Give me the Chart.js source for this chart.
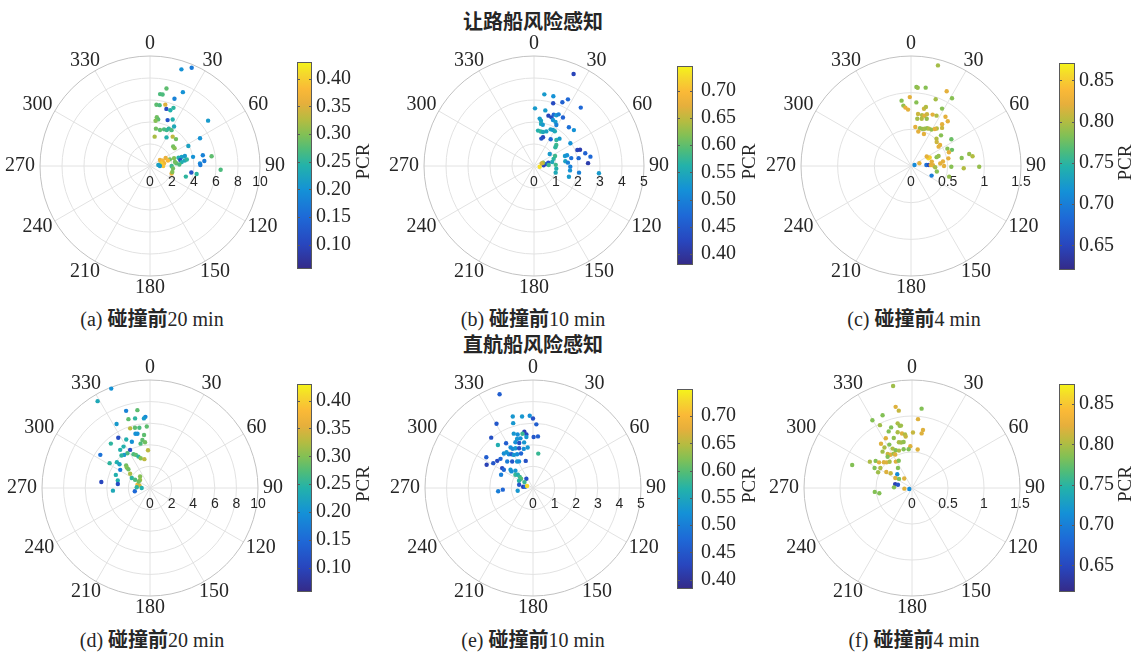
<!DOCTYPE html>
<html>
<head>
<meta charset="utf-8">
<script src="https://cdn.jsdelivr.net/npm/chart.js@4.4.1/dist/chart.umd.min.js"></script>
<style>
  body { margin: 0; background: #fff; }
  #page { position: relative; width: 1144px; height: 652px; overflow: hidden;
          font-family: 'Liberation Serif', 'Noto Sans CJK SC', serif; color: #262626; }
  #page canvas { position: absolute; }
  .txt { position: absolute; transform: translate(-50%, -50%); white-space: nowrap; font-size: 20px; }
  .zh { font-weight: bold; }
</style>
</head>
<body>
<div id="page">
  <div class="txt zh" style="left:533px;top:20px">让路船风险感知</div>
  <div class="txt zh" style="left:533px;top:343px">直航船风险感知</div>
  <div class="txt" style="left:152px;top:317px">(a) <span class="zh">碰撞前</span>20 min</div>
  <div class="txt" style="left:533px;top:317px">(b) <span class="zh">碰撞前</span>10 min</div>
  <div class="txt" style="left:914px;top:317px">(c) <span class="zh">碰撞前</span>4 min</div>
  <div class="txt" style="left:152px;top:638px">(d) <span class="zh">碰撞前</span>20 min</div>
  <div class="txt" style="left:533px;top:638px">(e) <span class="zh">碰撞前</span>10 min</div>
  <div class="txt" style="left:914px;top:638px">(f) <span class="zh">碰撞前</span>4 min</div>
</div>
<script>
// ---- axes ----
const thetaTicks = [0, 30, 60, 90, 120, 150, 180, 210, 240, 270, 300, 330];
const rTicks20 = [0, 2, 4, 6, 8, 10];
const rTicks10 = [0, 1, 2, 3, 4, 5];
const rTicks4 = [0, 0.5, 1, 1.5];
const cbLabel = 'PCR';

// colour limits and colourbar ticks
const climA = [0.056, 0.43],  cbTicksA = [0.10, 0.15, 0.20, 0.25, 0.30, 0.35, 0.40];
const climB = [0.38, 0.745],  cbTicksB = [0.40, 0.45, 0.50, 0.55, 0.60, 0.65, 0.70];
const climC = [0.62, 0.871],  cbTicksC = [0.65, 0.70, 0.75, 0.80, 0.85];
const climD = [0.056, 0.43],  cbTicksD = [0.10, 0.15, 0.20, 0.25, 0.30, 0.35, 0.40];
const climE = [0.383, 0.75],  cbTicksE = [0.40, 0.45, 0.50, 0.55, 0.60, 0.65, 0.70];
const climF = [0.617, 0.875], cbTicksF = [0.65, 0.70, 0.75, 0.80, 0.85];

// ---- (a) give-way ship, 20 min ----
const thetaA = [23,18,12,24,8,10,20,6,9,14, 16,20,22,8,10,7,21,26,52,9, 15.5,21,25,26.6,31,31.4,9,30,37.7,44,
  61,50,54,62.5,59,67,79,77,82,90, 63,71.5,72,74,74,74,79,83,81,80, 84,87,81,78,78.5,84.7,87,89,81,93,
  106.5,99,99.7,109,105,83,90,90,96,73];
const rA = [9.7,9.24,7.2,7.35,6.6,6.6,6.5,5.6,5.6,5.75, 5.4,5.4,5.7,4.47,4.3,4.15,4.47,4.7,6.7,3.44, 3.4,3.57,3.6,3.8,3.8,4.2,2.7,3.0,3.37,3.4,
  5.2,2.75,2.76,3.93,1.06,1.25,1.3,1.06,0.86,1.2, 1.6,1.9,2.3,2.7,3.0,3.3,2.8,2.9,3.2,3.4, 2.4,2.67,2.3,4.0,4.9,4.96,4.55,4.58,5.67,6.43,
  3.4,3.8,4.3,2.08,2.1,0.76,0.9,1.97,2.1,1.7];
const pcrA = [0.17,0.20,0.28,0.20,0.27,0.27,0.18,0.28,0.27,0.35, 0.11,0.24,0.25,0.29,0.28,0.30,0.12,0.24,0.21,0.29, 0.28,0.27,0.26,0.25,0.27,0.23,0.32,0.24,0.33,0.29,
  0.20,0.29,0.30,0.22,0.36,0.38,0.37,0.40,0.33,0.39, 0.36,0.29,0.30,0.24,0.22,0.21,0.11,0.24,0.23,0.25, 0.28,0.27,0.29,0.20,0.18,0.17,0.19,0.17,0.28,0.27,
  0.25,0.12,0.25,0.36,0.30,0.22,0.21,0.26,0.29,0.38];

// ---- (b) give-way ship, 10 min ----
const thetaB = [23.3,8.2,15.5,24,27,17,38.7,1,11.5,16, 19.7,21,23.8,25.5,30.8,6.8,8.8,9.5,12,22.4, 26,28.6,42,48,6.5,11,14.8,19.6,24.4,27.8,
  31,17.4,15,32,40.7,43,46.8,48.8,58,69.7, 70.6,76,80.6,87,80,78,72,72,81.5,84.4, 91,97,107,98.4,96.4,64.5,70,77.7,87,96.8,
  107,77,81,86,70,97,71,52.6,86];
const rB = [4.55,3.29,3.29,3.17,3.4,2.98,3.4,2.62,2.58,2.38, 2.35,2.5,2.52,2.6,2.57,2.17,2.08,1.94,1.92,2.26, 2.23,2.12,2.37,2.44,1.62,1.6,1.6,1.67,1.83,1.85,
  1.84,1.37,1.29,1.43,1.56,1.7,1.39,1.29,1.95,2.1, 2.22,2.4,2.6,2.46,2.06,1.73,1.48,1.58,1.44,1.55, 1.65,1.65,1.66,2.07,2.97,1.06,0.95,0.85,0.99,1.02,
  1.03,0.67,0.57,0.44,0.44,0.26,0.37,0.9,0.67];
const pcrB = [0.42,0.53,0.52,0.46,0.47,0.43,0.47,0.53,0.53,0.42, 0.43,0.47,0.53,0.50,0.46,0.53,0.54,0.55,0.53,0.52, 0.53,0.50,0.48,0.52,0.56,0.57,0.55,0.54,0.54,0.53,
  0.55,0.42,0.44,0.47,0.57,0.53,0.58,0.57,0.52,0.42, 0.41,0.46,0.47,0.41,0.47,0.48,0.53,0.52,0.54,0.50, 0.50,0.52,0.53,0.50,0.53,0.58,0.57,0.55,0.58,0.56,
  0.55,0.44,0.46,0.42,0.63,0.73,0.66,0.53,0.58];

// ---- (c) give-way ship, 4 min ----
const thetaC = [15,3.9,4.9,10.6,25.5,351.8,352.8,359,354.5,357, 4.8,20.3,31.2,12.8,14.2,28.4,7.7,12.2,15,17.1, 22.8,26.9,7.6,12.8,18.4,35,39.4,36.7,39.2,34.5,
  6.3,13.3,17.4,20,23,25.7,29.4,32.8,12,22, 44.4,43,46.9,56.5,55,54,64.5,68.5,70,78.4, 81,78.4,81,90.6,92.5,82,90,91,105.6,102,
  115,66,65.5,59,78,71,70,85,86,87, 87,88,73,72,93];
const rC = [1.42,1.08,1.07,1.087,1.13,0.9,0.83,0.94,0.8,0.77, 0.87,0.97,1.08,0.8,0.83,0.89,0.715,0.71,0.71,0.74, 0.76,0.77,0.65,0.66,0.68,0.82,0.79,0.71,0.67,0.62,
  0.535,0.53,0.53,0.54,0.56,0.565,0.57,0.6,0.48,0.47, 0.585,0.51,0.48,0.66,0.46,0.49,0.55,0.6,0.55,0.52, 0.7,0.81,0.85,0.93,0.72,0.44,0.45,0.55,0.54,0.36,
  0.31,0.26,0.28,0.25,0.29,0.37,0.4,0.4,0.21,0.245, 0.27,0.3,0.05,0.12,0.33];
const pcrC = [0.795,0.785,0.79,0.785,0.82,0.785,0.79,0.82,0.82,0.82, 0.785,0.795,0.785,0.81,0.80,0.785,0.81,0.80,0.82,0.81,
  0.82,0.80,0.795,0.80,0.79,0.82,0.82,0.82,0.81,0.80, 0.82,0.79,0.79,0.795,0.79,0.80,0.79,0.82,0.82,0.82,
  0.785,0.80,0.81,0.775,0.82,0.82,0.785,0.775,0.82,0.82, 0.785,0.79,0.80,0.79,0.80,0.82,0.82,0.785,0.79,0.785,
  0.70,0.86,0.85,0.82,0.82,0.785,0.79,0.82,0.69,0.65, 0.82,0.82,0.71,0.82,0.795];

// ---- (d) stand-on ship, 20 min ----
const thetaD = [338.7,328.9,342.8,350.8,356.3,355,342.6,347.9,332.4,341.6, 346,350,357,345,347,353.6,327.7,333.9,338.6,318.6,
  351,353.8,348,357,322,327.4,332.4,327,322,318.7, 334,337,339.8,342.7,303.7,301.6,308,308,313.4,311.5,
  311,349,301.4,291,305.6,298.6,299,319.4,308.7,285, 284,270,277,283,277,265.9,257.7,273,300];
const rD = [9.88,9.39,7.48,7.3,6.6,6.47,6.68,6.59,6.68,5.82, 5.75,5.67,5.7,5.2,5.16,4.94,5.5,5.0,4.6,5.48,
  4.5,4.26,4.2,3.5,4.48,4.55,3.98,3.84,3.89,4.0, 3.48,3.33,3.1,2.89,5.53,4.39,3.89,3.58,3.04,2.87,
  2.65,2.72,3.23,3.39,2.26,1.92,1.58,1.41,1.18,1.2, 1.01,0.77,4.54,3.06,3.0,3.44,1.44,1.23,1.21];
const pcrD = [0.20,0.23,0.18,0.28,0.19,0.21,0.28,0.25,0.21,0.33, 0.28,0.27,0.28,0.20,0.20,0.28,0.11,0.24,0.20,0.25,
  0.28,0.29,0.27,0.33,0.24,0.24,0.11,0.27,0.21,0.25, 0.27,0.28,0.25,0.30,0.16,0.25,0.24,0.22,0.29,0.30,
  0.29,0.33,0.17,0.24,0.32,0.25,0.27,0.30,0.31,0.37, 0.34,0.24,0.10,0.24,0.11,0.23,0.15,0.25,0.29];

// ---- (e) stand-on ship, 10 min ----
const thetaE = [340.4,344.2,351.3,357.4,0,330.4,343,3,351.3,353, 349,340.5,344,0.7,5.5,320.3,320.8,342,345.8,352.6,
  329,339,343,349,331,332.7,336.2,340.7,346.7,352.5, 8.7,319.8,323.5,324.4,327.5,329.9,334.8,340.9,303.4,296.6,
  302,307.2,311.9,315.7,321.8,329,332.3,345,302.8,302, 309,307.6,314.5,292.6,307,311,310,308,297.6,283.4,
  277.6,279,288.4,264.6,266.9,260,324.5,304.7];
const rE = [4.61,3.44,3.35,3.35,3.22,3.42,3.14,2.95,2.64,2.5, 2.56,2.67,2.58,2.36,2.4,3.03,2.57,2.39,2.37,2.38,
  2.42,2.27,2.18,2.15,2.14,2.04,2.01,1.95,1.86,1.89, 1.61,2.09,2.06,1.92,1.85,1.77,1.73,1.69,2.59,2.4,
  2.17,2.08,2.02,1.71,1.56,1.43,1.39,1.3,1.7,1.59, 1.34,1.26,1.14,1.6,1.02,0.93,0.8,0.7,0.73,0.66,
  0.46,0.37,0.29,1.62,1.4,0.72,0.53,0.48];
const pcrE = [0.46,0.53,0.53,0.52,0.44,0.45,0.53,0.46,0.42,0.43, 0.58,0.53,0.52,0.45,0.46,0.44,0.56,0.53,0.52,0.53,
  0.46,0.52,0.44,0.53,0.52,0.51,0.53,0.44,0.52,0.53, 0.58,0.52,0.53,0.52,0.46,0.53,0.52,0.47,0.46,0.42,
  0.45,0.43,0.47,0.50,0.45,0.53,0.52,0.44,0.43,0.47, 0.53,0.52,0.53,0.50,0.58,0.56,0.58,0.60,0.57,0.45,
  0.42,0.47,0.73,0.50,0.47,0.53,0.44,0.58];

// ---- (f) stand-on ship, 4 min ----
const thetaF = [349.5,6.9,348.6,350.3,338,5,329.7,333,347.5,348.8, 350,10.7,10,1,341,337.6,345.6,349.6,352.6,353,
  332.2,325,340,344,346.6,349.7,332.4,357.7,325.8,321, 333.8,336.7,340.8,347.8,355,8.4,324.4,327,332,333.4,
  322,302,306.7,307.9,312.5,315.4,319.6,328.5,334,291, 298.2,295,302.3,301.9,304.7,325,313,301,305,320.6,
  283,283,272,265,249,264,260.8];
const rF = [1.44,1.11,1.15,1.09,1.09,0.96,1.09,0.98,0.92,0.88, 0.88,0.82,0.77,0.77,0.89,0.85,0.8,0.77,0.75,0.72,
  0.78,0.75,0.74,0.66,0.65,0.65,0.68,0.58,0.68,0.65, 0.61,0.57,0.55,0.55,0.54,0.54,0.58,0.55,0.54,0.52,
  0.55,0.69,0.63,0.58,0.53,0.5,0.48,0.43,0.42,0.89, 0.59,0.52,0.52,0.42,0.36,0.34,0.28,0.27,0.22,0.17,
  0.24,0.2,0.25,0.106,0.04,0.52,0.46];
const pcrF = [0.795,0.785,0.82,0.81,0.785,0.82,0.785,0.795,0.80,0.79, 0.795,0.82,0.82,0.81,0.785,0.785,0.80,0.82,0.80,0.81,
  0.82,0.82,0.79,0.80,0.795,0.79,0.785,0.82,0.80,0.795, 0.80,0.785,0.80,0.785,0.785,0.82,0.81,0.82,0.795,0.82,
  0.785,0.80,0.785,0.82,0.82,0.82,0.80,0.82,0.785,0.785, 0.785,0.795,0.80,0.82,0.81,0.785,0.71,0.82,0.785,0.82,
  0.64,0.66,0.785,0.82,0.71,0.785,0.785];

// parula-like colour map (position, r, g, b)
const parulaStops = [
  [0.00, 53, 42, 135], [0.12, 40, 70, 190], [0.25, 30, 105, 215], [0.38, 20, 145, 215],
  [0.50, 35, 178, 170], [0.58, 80, 188, 120], [0.65, 130, 192, 85], [0.72, 180, 188, 65],
  [0.80, 230, 175, 60], [0.87, 250, 185, 55], [0.94, 245, 215, 45], [1.00, 245, 245, 25]
];
function parula(t) {
  t = Math.max(0, Math.min(1, t));
  for (let i = 1; i < parulaStops.length; i++) {
    const a = parulaStops[i - 1], b = parulaStops[i];
    if (t <= b[0]) {
      const f = (t - a[0]) / (b[0] - a[0]);
      const c = [1, 2, 3].map(k => Math.round(a[k] + (b[k] - a[k]) * f));
      return `rgb(${c[0]},${c[1]},${c[2]})`;
    }
  }
  return 'rgb(245,245,25)';
}

const page = document.getElementById('page');
function addCanvas(left, top, w, h) {
  const cv = document.createElement('canvas');
  cv.width = w; cv.height = h;
  cv.style.left = left + 'px'; cv.style.top = top + 'px';
  cv.style.width = w + 'px'; cv.style.height = h + 'px';
  page.appendChild(cv);
  return cv;
}

// polar grid drawn from the x/y scales (compass: 0 at top, clockwise)
const polarGrid = {
  id: 'polarGrid',
  beforeDatasetsDraw(chart, args, opts) {
    const { ctx, scales: { x, y } } = chart;
    const cx = x.getPixelForValue(0), cy = y.getPixelForValue(0);
    const rr = v => x.getPixelForValue(v) - cx;
    const R = rr(opts.rTicks[opts.rTicks.length - 1]);
    ctx.save();
    ctx.lineWidth = 1;
    ctx.strokeStyle = '#e2e2e2';
    thetaTicks.forEach(t => {
      const a = t * Math.PI / 180;
      ctx.beginPath();
      ctx.moveTo(cx, cy);
      ctx.lineTo(cx + R * Math.sin(a), cy - R * Math.cos(a));
      ctx.stroke();
    });
    opts.rTicks.slice(1, -1).forEach(v => {
      ctx.beginPath(); ctx.arc(cx, cy, rr(v), 0, 2 * Math.PI); ctx.stroke();
    });
    ctx.strokeStyle = '#c2c2c2';
    ctx.beginPath(); ctx.arc(cx, cy, R, 0, 2 * Math.PI); ctx.stroke();

    ctx.fillStyle = '#262626';
    ctx.textAlign = 'center';
    ctx.textBaseline = 'middle';
    ctx.font = '20px "Liberation Serif"';
    thetaTicks.forEach(t => {
      const a = t * Math.PI / 180, s = Math.sin(a), c = Math.cos(a);
      const lab = String(t);
      const w = ctx.measureText(lab).width, h = 14;
      ctx.fillText(lab, cx + (R + 5) * s + s * w / 2, cy - (R + 5) * c - c * h / 2);
    });
    ctx.font = '14px "Liberation Sans"';
    opts.rTicks.forEach(v => ctx.fillText(String(v), x.getPixelForValue(v), cy + 16));
    ctx.restore();
  }
};

function polarChart(left, top, size, radius, theta, r, pcr, rTicks, clim) {
  const cv = addCanvas(left, top, size, size);
  const rmax = rTicks[rTicks.length - 1];
  const deg = Math.PI / 180;
  return new Chart(cv, {
    type: 'scatter',
    data: {
      datasets: [{
        data: theta.map((t, i) => ({ x: r[i] * Math.sin(t * deg), y: r[i] * Math.cos(t * deg) })),
        pointBackgroundColor: pcr.map(v => parula((v - clim[0]) / (clim[1] - clim[0]))),
        pointBorderWidth: 0,
        pointRadius: 2.2
      }]
    },
    options: {
      responsive: false,
      animation: false,
      devicePixelRatio: 1,
      layout: { padding: (size - 2 * radius) / 2 },
      scales: {
        x: { type: 'linear', display: false, min: -rmax, max: rmax },
        y: { type: 'linear', display: false, min: -rmax, max: rmax }
      },
      plugins: {
        legend: { display: false },
        tooltip: { enabled: false },
        polarGrid: { rTicks: rTicks }
      }
    },
    plugins: [polarGrid]
  });
}

// colourbar: gradient + box + ticks + rotated label
const colorbarPlugin = {
  id: 'colorbar',
  beforeDraw(chart, args, opts) {
    const { ctx, chartArea: a, scales: { y } } = chart;
    const g = ctx.createLinearGradient(0, a.bottom, 0, a.top);
    parulaStops.forEach(s => g.addColorStop(s[0], `rgb(${s[1]},${s[2]},${s[3]})`));
    ctx.save();
    ctx.fillStyle = g;
    ctx.fillRect(a.left, a.top, a.width, a.height);
    ctx.strokeStyle = '#5a5a5a';
    ctx.lineWidth = 1;
    ctx.strokeRect(a.left + 0.5, a.top + 0.5, a.width - 1, a.height - 1);
    y.ticks.forEach(t => {
      const py = Math.round(y.getPixelForValue(t.value)) + 0.5;
      ctx.beginPath();
      ctx.moveTo(a.right - 3, py); ctx.lineTo(a.right, py);
      ctx.moveTo(a.left, py); ctx.lineTo(a.left + 3, py);
      ctx.stroke();
    });
    ctx.translate(a.right + opts.labelOffset, (a.top + a.bottom) / 2 - 4);
    ctx.rotate(-Math.PI / 2);
    ctx.font = '19px "Liberation Serif"';
    ctx.fillStyle = '#262626';
    ctx.textAlign = 'center';
    ctx.textBaseline = 'middle';
    ctx.fillText(cbLabel, 0, 0);
    ctx.restore();
  }
};

function colorbar(barLeft, barTop, barW, barH, clim, ticks, tickPad, labelOffset) {
  const padL = 4, padT = 10, axisW = 50, padR = 40;
  const cv = addCanvas(barLeft - padL, barTop - padT, padL + barW + axisW + padR, barH + 2 * padT);
  return new Chart(cv, {
    type: 'scatter',
    data: { datasets: [] },
    options: {
      responsive: false,
      animation: false,
      devicePixelRatio: 1,
      layout: { padding: { left: padL, top: padT, bottom: padT, right: padR } },
      scales: {
        x: { display: false },
        y: {
          position: 'right',
          min: clim[0], max: clim[1],
          afterFit: s => { s.width = axisW; },
          afterBuildTicks: s => { s.ticks = ticks.map(v => ({ value: v })); },
          grid: { display: false, drawTicks: false },
          border: { display: false },
          ticks: {
            padding: tickPad,
            color: '#262626',
            font: { family: 'Liberation Serif', size: 20 },
            callback: v => Number(v).toFixed(2)
          }
        }
      },
      plugins: {
        legend: { display: false },
        tooltip: { enabled: false },
        colorbar: { labelOffset: labelOffset }
      }
    },
    plugins: [colorbarPlugin]
  });
}

// top row: give-way ship
polarChart(0, 16, 300, 110, thetaA, rA, pcrA, rTicks20, climA);
polarChart(384, 16, 300, 110, thetaB, rB, pcrB, rTicks10, climB);
polarChart(761, 16, 300, 110, thetaC, rC, pcrC, rTicks4, climC);
colorbar(297, 56, 15, 219, climA, cbTicksA, 4, 52);
colorbar(677, 56, 16, 219, climB, cbTicksB, 8, 57);
colorbar(1059, 57, 16, 219, climC, cbTicksC, 4, 51);

// bottom row: stand-on ship
polarChart(2, 340, 296, 108, thetaD, rD, pcrD, rTicks20, climD);
polarChart(385, 340, 296, 108, thetaE, rE, pcrE, rTicks10, climE);
polarChart(764, 340, 296, 108, thetaF, rF, pcrF, rTicks4, climF);
colorbar(297, 378, 15, 220, climD, cbTicksD, 4, 52);
colorbar(677, 379, 16, 220, climE, cbTicksE, 8, 57);
colorbar(1059, 378, 16, 220, climF, cbTicksF, 4, 51);
</script>
</body>
</html>
